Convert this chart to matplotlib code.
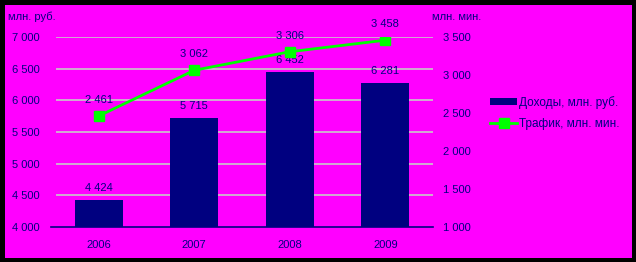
import matplotlib
matplotlib.use("Agg")
import matplotlib.pyplot as plt
from matplotlib.patches import Rectangle
from matplotlib.lines import Line2D
from matplotlib.patches import Patch

years = ["2006", "2007", "2008", "2009"]
revenue = [4424, 5715, 6452, 6281]
traffic = [2461, 3062, 3306, 3458]
left_ticks = [4000, 4500, 5000, 5500, 6000, 6500, 7000]
right_ticks = [1000, 1500, 2000, 2500, 3000, 3500]

def fmt(v):
    return f"{v:,}".replace(",", " ")

NAVY = "#000080"
MAGENTA = "#FF00FF"
GREEN = "#00FF00"
plt.rcParams['font.family'] = ['Liberation Sans', 'DejaVu Sans']

W, H = 636, 262
fig = plt.figure(figsize=(W/100, H/100), dpi=100, facecolor="black")
bg = Rectangle((5/W, 4/H), 627/W, 253/H, transform=fig.transFigure,
               facecolor=MAGENTA, edgecolor="none", zorder=-10)
fig.add_artist(bg)

ax = fig.add_axes([51/W, 35/H, 382/W, 190/H])
ax.set_facecolor("none")
x = list(range(len(years)))
ax.set_xlim(-0.5, 3.5)
ax.set_ylim(4000, 7000)
ax.hlines(left_ticks[1:], xmin=5/382, xmax=1, transform=ax.get_yaxis_transform(),
          colors="#C8C8C8", linewidth=1.2, zorder=1)
bars = ax.bar(x, revenue, width=0.5, color=NAVY, zorder=2)
for i, v in enumerate(revenue):
    ax.annotate(fmt(v), (i, v), xytext=(0, 5), textcoords="offset points",
                ha="center", va="bottom", color=NAVY, fontsize=8)
ax.set_yticks(left_ticks)
ax.set_yticklabels([fmt(t) for t in left_ticks], color=NAVY, fontsize=8)
ax.set_xticks(x)
ax.set_xticklabels(years, color=NAVY, fontsize=8)
ax.tick_params(axis="y", length=0, pad=8)
ax.tick_params(axis="x", length=0, pad=9.5)
for s in ["top", "left", "right"]:
    ax.spines[s].set_visible(False)
ax.spines["bottom"].set_color(NAVY)
ax.spines["bottom"].set_linewidth(1.2)

ax2 = ax.twinx()
ax2.set_ylim(1000, 3500)
ax2.plot(x, traffic, color=GREEN, linewidth=2, marker="s", markersize=7,
         markerfacecolor=GREEN, markeredgecolor=GREEN, zorder=3)
for i, v in enumerate(traffic):
    ax2.annotate(fmt(v), (i, v), xytext=(0, 8), textcoords="offset points",
                 ha="center", va="bottom", color=NAVY, fontsize=8)
ax2.set_yticks(right_ticks)
ax2.set_yticklabels([fmt(t) for t in right_ticks], color=NAVY, fontsize=8)
ax2.tick_params(axis="y", length=0, pad=7)
for s in ["top", "left", "right", "bottom"]:
    ax2.spines[s].set_visible(False)

fig.text(8/W, 1 - 17/H, "млн. руб.", color=NAVY, fontsize=8, va="center", ha="left")
fig.text(432/W, 1 - 17/H, "млн. мин.", color=NAVY, fontsize=8, va="center", ha="left")

handles = [Patch(facecolor=NAVY, edgecolor="none"),
           Line2D([], [], color=GREEN, linewidth=2, marker="s", markersize=7)]
leg = fig.legend(handles, ["Доходы, млн. руб.", "Трафик, млн. мин."],
                 loc="upper left", bbox_to_anchor=(490/W, 1 - 96/H),
                 frameon=False, fontsize=8.5, handlelength=2.3, handleheight=0.5,
                 handletextpad=0.15, labelspacing=0.75, borderaxespad=0, borderpad=0)
for t in leg.get_texts():
    t.set_color(NAVY)

fig.savefig("out.png", dpi=100, facecolor="black")
